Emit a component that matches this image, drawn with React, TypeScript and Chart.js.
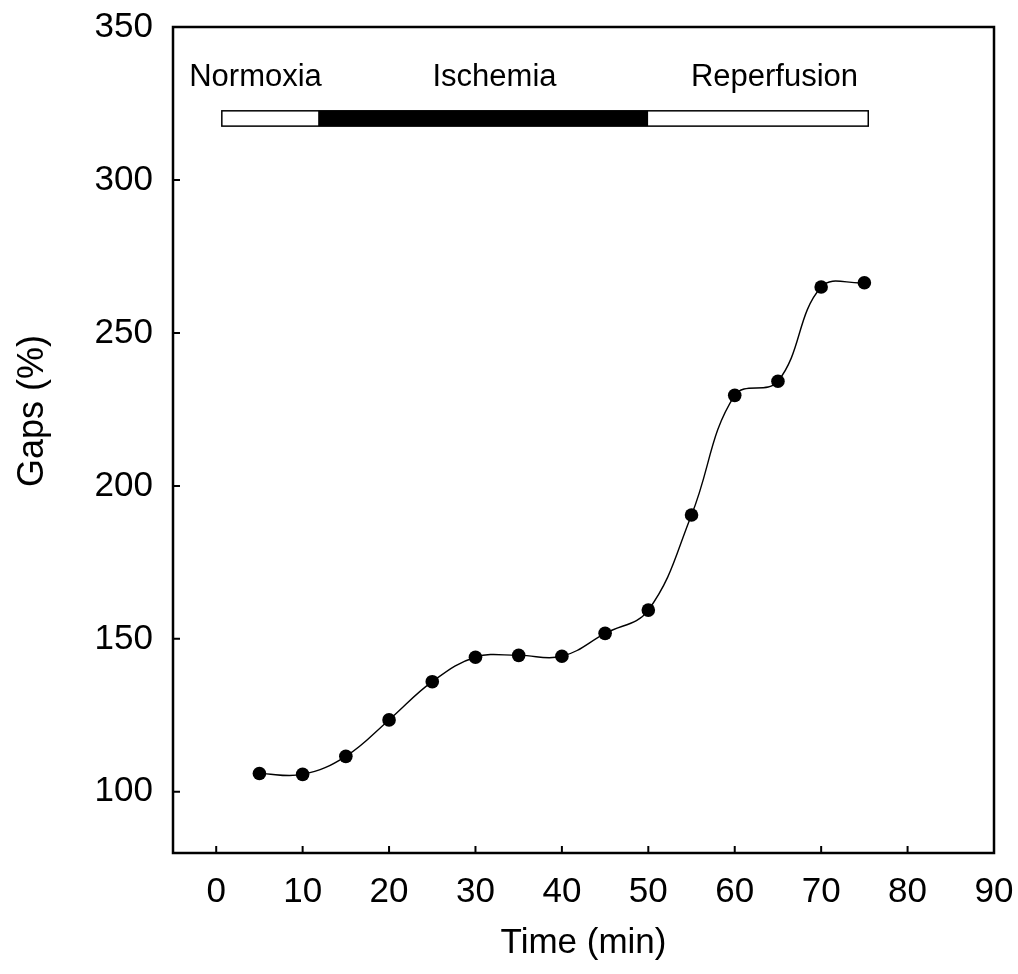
import React, { useEffect, useRef } from "react";
import { Chart, registerables } from "chart.js";

Chart.register(...registerables);

const timeMin = [5, 10, 15, 20, 25, 30, 35, 40, 45, 50, 55, 60, 65, 70, 75];
const gapsPct = [106, 105.7, 111.6, 123.5, 136, 144, 144.6, 144.3, 151.8, 159.4, 190.5, 229.6, 234.2, 265, 266.4];

const xTicks = [0, 10, 20, 30, 40, 50, 60, 70, 80, 90];
const yTicks = [100, 150, 200, 250, 300, 350];

const xTitle = "Time (min)";
const yTitle = "Gaps (%)";

const phaseNames = ["Normoxia", "Ischemia", "Reperfusion"];
const phaseStart = [0.65, 11.8, 50];
const phaseEnd = [11.8, 50, 75.45];
const phaseFill = ["#ffffff", "#000000", "#ffffff"];
const phaseLabelX = [4.55, 32.2, 64.6];
const phaseLabelY = 333.5;
const phaseBarY = 320.1;
const phaseBarHalf = 2.5;

const FONT = "'Liberation Sans', Arial, sans-serif";

const framePlugin = {
  id: "frame",
  afterDraw(chart: any) {
    const ctx = chart.ctx;
    const { left, right, top, bottom } = chart.chartArea;
    const xs = chart.scales.x;
    const ys = chart.scales.y;
    ctx.save();
    // phase bar
    ctx.lineWidth = 1.5;
    ctx.strokeStyle = "#000";
    const yTop = ys.getPixelForValue(phaseBarY + phaseBarHalf);
    const yBot = ys.getPixelForValue(phaseBarY - phaseBarHalf);
    for (let i = 0; i < phaseNames.length; i++) {
      const x0 = xs.getPixelForValue(phaseStart[i]);
      const x1 = xs.getPixelForValue(phaseEnd[i]);
      ctx.fillStyle = phaseFill[i];
      ctx.fillRect(x0, yTop, x1 - x0, yBot - yTop);
    }
    const bx0 = xs.getPixelForValue(phaseStart[0]);
    const bx1 = xs.getPixelForValue(phaseEnd[phaseEnd.length - 1]);
    ctx.strokeRect(bx0, yTop, bx1 - bx0, yBot - yTop);
    // phase labels
    ctx.fillStyle = "#000";
    ctx.font = `31px ${FONT}`;
    ctx.textAlign = "center";
    ctx.textBaseline = "middle";
    for (let i = 0; i < phaseNames.length; i++) {
      ctx.fillText(phaseNames[i], xs.getPixelForValue(phaseLabelX[i]), ys.getPixelForValue(phaseLabelY));
    }
    // y title
    ctx.save();
    ctx.translate(left - 140, (top + bottom) / 2 - 29);
    ctx.rotate(-Math.PI / 2);
    ctx.font = `36px ${FONT}`;
    ctx.fillText(yTitle, 0, 0);
    ctx.restore();
    // inner ticks
    ctx.lineWidth = 2;
    ctx.beginPath();
    for (const t of xTicks) {
      const px = xs.getPixelForValue(t);
      if (px >= right - 1) continue;
      ctx.moveTo(px, bottom);
      ctx.lineTo(px, bottom - 7);
    }
    for (const t of yTicks) {
      const py = ys.getPixelForValue(t);
      if (py <= top + 1) continue;
      ctx.moveTo(left, py);
      ctx.lineTo(left + 7, py);
    }
    ctx.stroke();
    // frame
    ctx.lineWidth = 2.5;
    ctx.strokeRect(left, top, right - left, bottom - top);
    ctx.restore();
  },
};

export default function App() {
  const ref = useRef<HTMLCanvasElement>(null);
  useEffect(() => {
    document.body.style.margin = "0";
    const canvas = ref.current!;
    const chart = new Chart(canvas, {
      type: "line",
      data: {
        datasets: [
          {
            data: timeMin.map((t, i) => ({ x: t, y: gapsPct[i] })),
            borderColor: "#000",
            borderWidth: 1.4,
            backgroundColor: "#000",
            pointRadius: 6.8,
            pointBackgroundColor: "#000",
            pointBorderWidth: 0,
            tension: 0.4,
            fill: false,
          },
        ],
      },
      options: {
        animation: false,
        responsive: false,
        maintainAspectRatio: false,
        layout: { padding: { top: 27, right: 24, left: 0, bottom: 0 } },
        plugins: { legend: { display: false }, tooltip: { enabled: false } },
        scales: {
          x: {
            type: "linear",
            min: -5,
            max: 90,
            afterBuildTicks: (s: any) => {
              s.ticks = xTicks.map((v) => ({ value: v }));
            },
            afterFit: (s: any) => {
              s.height = 121;
              s.paddingLeft = 0;
              s.paddingRight = 0;
            },
            grid: { display: false, drawTicks: false },
            border: { display: false },
            ticks: {
              color: "#000",
              font: { family: FONT, size: 35 },
              padding: 18,
              maxRotation: 0,
              autoSkip: false,
            },
            title: {
              display: true,
              text: xTitle,
              color: "#000",
              font: { family: FONT, size: 35 },
              padding: { top: 0, bottom: 10 },
            },
          },
          y: {
            type: "linear",
            min: 80,
            max: 350,
            afterBuildTicks: (s: any) => {
              s.ticks = yTicks.map((v) => ({ value: v }));
            },
            afterFit: (s: any) => {
              s.width = 173;
              s.paddingTop = 0;
              s.paddingBottom = 0;
            },
            grid: { display: false, drawTicks: false },
            border: { display: false },
            ticks: {
              color: "#000",
              font: { family: FONT, size: 35 },
              padding: 20,
              autoSkip: false,
            },
            title: { display: false },
          },
        },
      },
      plugins: [framePlugin],
    } as any);
    return () => chart.destroy();
  }, []);
  return <canvas ref={ref} width={1018} height={974} style={{ display: "block" }} />;
}
